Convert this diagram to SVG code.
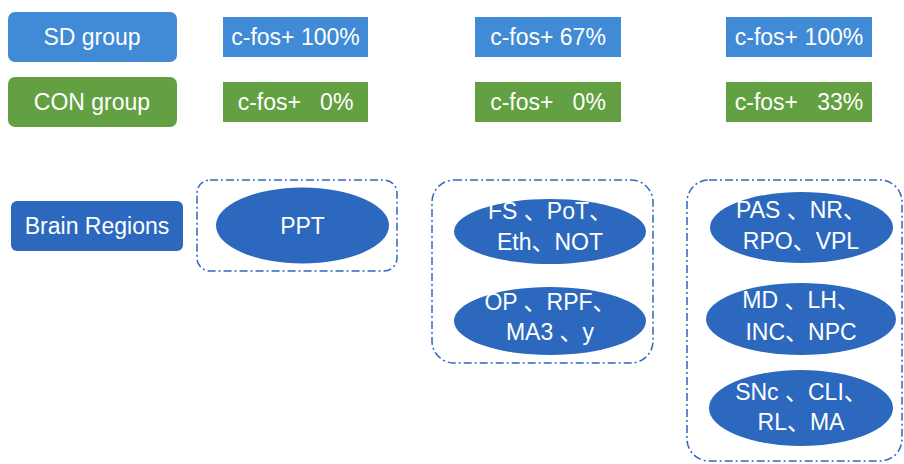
<svg xmlns="http://www.w3.org/2000/svg" width="904" height="464" viewBox="0 0 904 464">
<style>
text{font-family:"Liberation Sans","Noto Sans CJK SC",sans-serif;font-size:23px;fill:#ffffff;text-anchor:middle;white-space:pre}
.lb{fill:#418BD6}
.gr{fill:#62A041}
.db{fill:#2C68BE}
.grp{fill:none;stroke:#2C68BE;stroke-width:1.5;stroke-dasharray:8 3 2 3}
</style>
<rect width="904" height="464" fill="#ffffff"/>
<g id="sd-group"><rect class="lb" x="8" y="12" width="169" height="50" rx="7"/><text x="92" y="45">SD group</text></g>
<g id="con-group"><rect class="gr" x="8" y="77" width="169" height="50" rx="7"/><text x="92" y="110">CON group</text></g>
<g id="sd-1"><rect class="lb" x="223" y="17" width="145" height="40"/><text x="295.5" y="45">c-fos+ 100%</text></g>
<g id="sd-2"><rect class="lb" x="475" y="17" width="146" height="40"/><text x="548" y="45">c-fos+ 67%</text></g>
<g id="sd-3"><rect class="lb" x="726" y="17" width="146" height="40"/><text x="799" y="45">c-fos+ 100%</text></g>
<g id="con-1"><rect class="gr" x="223" y="82" width="145" height="40"/><text x="295.5" y="110">c-fos+   0%</text></g>
<g id="con-2"><rect class="gr" x="475" y="82" width="146" height="40"/><text x="548" y="110">c-fos+   0%</text></g>
<g id="con-3"><rect class="gr" x="726" y="82" width="146" height="40"/><text x="799" y="110">c-fos+   33%</text></g>
<g id="brain-regions"><rect class="db" x="11" y="201" width="172" height="50" rx="6"/><text x="97" y="234">Brain Regions</text></g>
<g id="group-1"><rect class="grp" x="197" y="180" width="200" height="91" rx="13"/></g>
<g id="group-2"><rect class="grp" x="432" y="180" width="221" height="183" rx="22"/></g>
<g id="group-3"><rect class="grp" x="687" y="180" width="215" height="281" rx="22"/></g>
<g id="ppt"><ellipse class="db" cx="302.5" cy="225.5" rx="86.5" ry="38"/><text x="302.5" y="234">PPT</text></g>
<g id="fs"><ellipse class="db" cx="550" cy="231.5" rx="96" ry="32.5"/><text x="550" y="219">FS 、PoT、</text><text x="550" y="250">Eth、NOT</text></g>
<g id="op"><ellipse class="db" cx="550" cy="321" rx="96" ry="34"/><text x="550" y="310">OP 、RPF、</text><text x="550" y="340">MA3 、y</text></g>
<g id="pas"><ellipse class="db" cx="801.5" cy="227.5" rx="91.5" ry="35.5"/><text x="801" y="218">PAS 、NR、</text><text x="801" y="249">RPO、VPL</text></g>
<g id="md"><ellipse class="db" cx="801" cy="319" rx="95" ry="36"/><text x="801" y="308">MD 、LH、</text><text x="801" y="340">INC、NPC</text></g>
<g id="snc"><ellipse class="db" cx="801" cy="408" rx="92" ry="38"/><text x="801" y="400">SNc 、CLI、</text><text x="801" y="430">RL、MA</text></g>
<g id="connectors"></g>
</svg>
